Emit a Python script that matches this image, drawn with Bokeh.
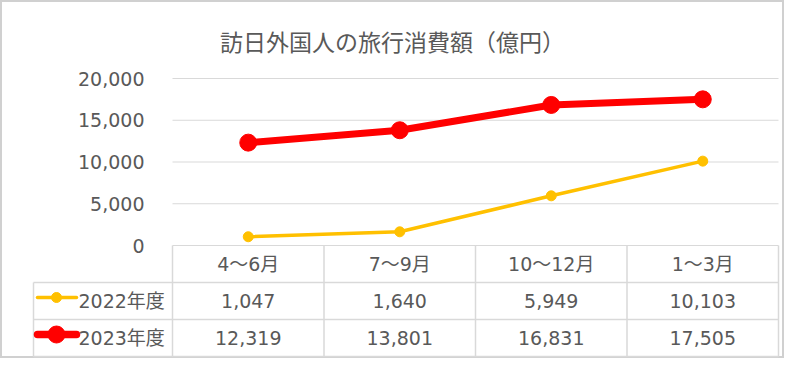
from bokeh.plotting import figure
from bokeh.models import Range1d
from bokeh.core.properties import value
from bokeh.embed import file_html
from bokeh.resources import INLINE

# ---- data ----
title_text = "訪日外国人の旅行消費額（億円）"
categories = ["4～6月", "7～9月", "10～12月", "1～3月"]
series_names = ["2022年度", "2023年度"]
fy2022 = [1047, 1640, 5949, 10103]
fy2023 = [12319, 13801, 16831, 17505]
y_ticks = [0, 5000, 10000, 15000, 20000]
series_colors = ["#FFC000", "#FF0000"]

# ---- geometry (pixels inside the figure) ----
W, H = 784, 358
plot_left, plot_right = 172, 778
zero_y, top_y = 245, 78
row_h = 37
legend_left = 33
col_w = (plot_right - plot_left) / len(categories)
ppu = (zero_y - top_y) / y_ticks[-1]

x_start = -0.5 - plot_left / col_w
x_end = x_start + W / col_w
y_start = -(H - zero_y) / ppu
y_end = zero_y / ppu

FONT = value("DejaVu Sans, Noto Sans CJK JP")
TXT = "#595959"
GRID = "#D9D9D9"
FS = "19px"

p = figure(width=W, height=H, output_backend="svg", toolbar_location=None,
           x_range=Range1d(x_start, x_end), y_range=Range1d(y_start, y_end),
           min_border=0, background_fill_color="white", border_fill_color="white")
p.xaxis.visible = False
p.yaxis.visible = False
p.grid.visible = False
p.outline_line_color = "#D0D0D0"
p.outline_line_width = 3

p.extra_y_ranges = {
    "tbl": Range1d(-(H - zero_y) / row_h, zero_y / row_h),
    "pxy": Range1d(H, 0),
}
p.extra_x_ranges = {"px": Range1d(0, W)}

xs = list(range(len(categories)))
n = len(categories)

# gridlines
p.segment(x0=[-0.5] * len(y_ticks), x1=[n - 0.5] * len(y_ticks),
          y0=y_ticks, y1=y_ticks, line_color=GRID, line_width=1)

# y tick labels
p.text(x=[plot_left - 28] * len(y_ticks), y=y_ticks,
       text=[f"{t:,}" for t in y_ticks], x_range_name="px",
       text_align="right", text_baseline="middle", text_font=FONT,
       text_font_size=FS, text_color=TXT)

# table lines
leg_left_cat = -0.5 - (plot_left - legend_left) / col_w
rows = len(series_names) + 1
for r in range(1, rows + 1):
    p.segment(x0=[leg_left_cat], x1=[n - 0.5], y0=[-r], y1=[-r],
              y_range_name="tbl", line_color=GRID, line_width=1.5)
vx = [c - 0.5 for c in range(n + 1)]
p.segment(x0=vx, x1=vx, y0=[0] * len(vx), y1=[-rows] * len(vx),
          y_range_name="tbl", line_color=GRID, line_width=1.5)
p.segment(x0=[leg_left_cat], x1=[leg_left_cat], y0=[-1], y1=[-rows],
          y_range_name="tbl", line_color=GRID, line_width=1.5)

# header labels
p.text(x=xs, y=[-0.5] * n, text=categories, y_range_name="tbl",
       text_align="center", text_baseline="middle", text_font=FONT,
       text_font_size=FS, text_color=TXT)

# value rows
for i, vals in enumerate([fy2022, fy2023]):
    p.text(x=xs, y=[-1.5 - i] * n, text=[f"{v:,}" for v in vals],
           y_range_name="tbl", text_align="center", text_baseline="middle",
           text_font=FONT, text_font_size=FS, text_color=TXT)

# series lines
widths = [3.5, 7]
sizes = [10, 17]
for vals, col, lw, sz in zip([fy2022, fy2023], series_colors, widths, sizes):
    p.line(x=xs, y=vals, line_color=col, line_width=lw,
           line_join="round", line_cap="round")
    p.scatter(x=xs, y=vals, size=sz, fill_color=col, line_color=col)

# legend column
for i, (name, col, lw, sz) in enumerate(zip(series_names, series_colors, widths, sizes)):
    cy = zero_y + row_h * (1.5 + i) - 3.5
    p.line(x=[legend_left + 4, legend_left + 43], y=[cy, cy],
           x_range_name="px", y_range_name="pxy", line_color=col,
           line_width=lw if i == 0 else 7.5, line_cap="round")
    p.scatter(x=[legend_left + 23], y=[cy], x_range_name="px", y_range_name="pxy",
              size=sz, fill_color=col, line_color=col)
    p.text(x=[legend_left + 45], y=[zero_y + row_h * (1.5 + i)], text=[name],
           x_range_name="px", y_range_name="pxy", text_align="left",
           text_baseline="middle", text_font=FONT, text_font_size=FS,
           text_color=TXT)

# title
p.text(x=[392], y=[40], text=[title_text], x_range_name="px", y_range_name="pxy",
       text_align="center", text_baseline="middle",
       text_font=value("Noto Sans CJK JP"), text_font_size="23px", text_color=TXT)

open("out.html", "w").write(file_html(p, INLINE))
